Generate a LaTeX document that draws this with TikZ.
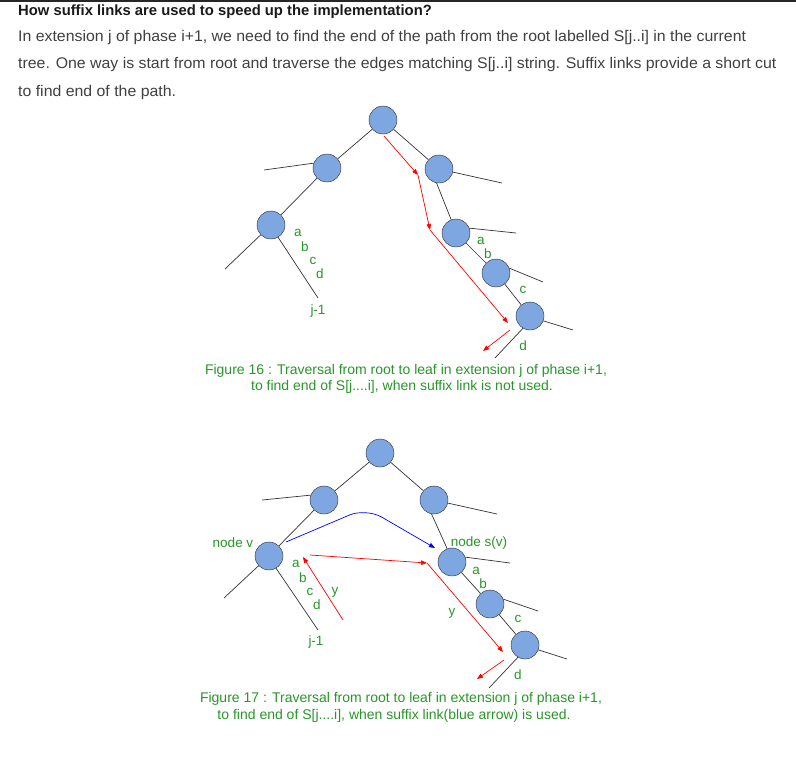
\documentclass[tikz,border=0pt]{standalone}
\usepackage{fontspec}
\setmainfont{Liberation Sans}
\newfontfamily\bodyfont[FakeStretch=1.03]{Liberation Sans}
\usetikzlibrary{arrows.meta}
\definecolor{nodeblue}{HTML}{7EA6E0}
\definecolor{lblgreen}{RGB}{40,150,40}
\definecolor{bodygray}{HTML}{404040}

\begin{document}
\begin{tikzpicture}[
    x=1pt, y=-1pt,
    >={Triangle[length=6pt, width=4.5pt]},
    tnode/.style={circle, draw=black!85, fill=nodeblue, minimum size=28pt,
                  inner sep=0pt},
    edge/.style={draw=black!80, line width=0.7pt},
    redarr/.style={->, red, line width=0.7pt},
    bluearr/.style={->, blue, line width=0.7pt, rounded corners=18pt},
    lbl/.style={text=lblgreen, font=\fontsize{13.5}{15}\selectfont, inner sep=0pt},
    figcap/.style={text=lblgreen, font=\fontsize{14}{16}\selectfont, inner sep=0pt},
    para/.style={anchor=base west, text=bodygray, inner sep=0pt,
                 font=\bodyfont\fontsize{15.4}{18}\selectfont}
  ]
  \useasboundingbox (0,0) rectangle (796,756);
  \draw[black!85, line width=2pt] (0,1) -- (796,1);

  % heading and text
  \node[anchor=base west, inner sep=0pt, text=black!90,
        font=\bfseries\fontsize{14.8}{18}\selectfont] (head) at (18,15)
    {How suffix links are used to speed up the implementation?};
  \node[para] (line1) at (18,41) {In extension j of phase i+1, we need to find the end of the path from the root labelled S[j..i] in the current};
  \node[para] (line2) at (18,68) {tree. One way is start from root and traverse the edges matching S[j..i] string. Suffix links provide a short cut};
  \node[para] (line3) at (18,96) {to find end of the path.};

  % Figure 16
  \node[tnode] (rootA) at (383,120) {};
  \node[tnode] (la) at (327,168) {};
  \node[tnode] (ra) at (439,169) {};
  \node[tnode] (lla) at (271,225) {};
  \node[tnode] (xa) at (456,233) {};
  \node[tnode] (ya) at (496,273) {};
  \node[tnode] (za) at (530,316) {};

  \coordinate (laend) at (264,170);
  \coordinate (llaleft) at (225,269);
  \coordinate (lladown) at (318,298);
  \coordinate (raend) at (502,183);
  \coordinate (xaend) at (516,233);
  \coordinate (yaend) at (543,282);
  \coordinate (zaend) at (573,330);
  \coordinate (zadown) at (495,358);

  \draw[edge] (rootA) -- (la);
  \draw[edge] (rootA) -- (ra);
  \draw[edge] (laend) -- (la.160);
  \draw[edge] (la) -- (lla);
  \draw[edge] (lla) -- (llaleft);
  \draw[edge] (lla.-60) -- (lladown);
  \draw[edge] (ra) -- (raend);
  \draw[edge] (ra.-100) -- (xa.110);
  \draw[edge] (xa.20) -- (xaend);
  \draw[edge] (xa) -- (ya);
  \draw[edge] (ya.20) -- (yaend);
  \draw[edge] (ya) -- (za);
  \draw[edge] (za.-20) -- (zaend);
  \draw[edge] (za.-120) -- (zadown);

  \coordinate (redA0) at (384,136);
  \coordinate (redA1) at (418,175);
  \coordinate (redA2) at (430,230);
  \coordinate (redA3) at (508,323);
  \coordinate (redA4) at (510,330);
  \coordinate (redA5) at (483,351);
  \draw[redarr] (redA0) -- (redA1);
  \draw[redarr] (redA1) -- (redA2);
  \draw[redarr] (redA2) -- (redA3);
  \draw[redarr] (redA4) -- (redA5);

  \node[lbl] (aA) at (298,233) {a};
  \node[lbl] (bA) at (305,247) {b};
  \node[lbl] (cA) at (313,261) {c};
  \node[lbl] (dA) at (320,274) {d};
  \node[lbl] (jA) at (318,311) {j-1};
  \node[lbl] (aA2) at (481,241) {a};
  \node[lbl] (bA2) at (488,254) {b};
  \node[lbl] (cA2) at (523,290) {c};
  \node[lbl] (dA2) at (523,346) {d};

  \node[figcap] (capA1) at (406,371) {Figure 16 : Traversal from root to leaf in extension j of phase i+1,};
  \node[figcap] (capA2) at (402,387) {to find end of S[j....i], when suffix link is not used.};

  % Figure 17
  \node[tnode] (rootB) at (380,453) {};
  \node[tnode] (lb) at (324,500) {};
  \node[tnode] (rb) at (434,500) {};
  \node[tnode] (v) at (269,556) {};
  \node[tnode] (sv) at (452,562) {};
  \node[tnode] (xb) at (490,604) {};
  \node[tnode] (yb) at (525,645) {};

  \coordinate (lbend) at (262,500);
  \coordinate (rbend) at (497,514);
  \coordinate (vleft) at (224,598);
  \coordinate (vdown) at (318,630);
  \coordinate (svend) at (510,563);
  \coordinate (xbend) at (538,611);
  \coordinate (ybend) at (567,659);
  \coordinate (ybdown) at (489,688);

  \draw[edge] (rootB) -- (lb);
  \draw[edge] (rootB) -- (rb);
  \draw[edge] (lbend) -- (lb.160);
  \draw[edge] (lb) -- (v);
  \draw[edge] (v) -- (vleft);
  \draw[edge] (v.-60) -- (vdown);
  \draw[edge] (rb) -- (rbend);
  \draw[edge] (rb.-100) -- (sv.110);
  \draw[edge] (sv.20) -- (svend);
  \draw[edge] (sv) -- (xb);
  \draw[edge] (xb.20) -- (xbend);
  \draw[edge] (xb) -- (yb);
  \draw[edge] (yb.-20) -- (ybend);
  \draw[edge] (yb.-120) -- (ybdown);

  % suffix link
  \coordinate (blue0) at (286,542);
  \coordinate (bluetop) at (366,508);
  \coordinate (blue1) at (435,548);
  \draw[bluearr] (blue0) -- (bluetop) -- (blue1);

  \coordinate (redB0) at (343,620);
  \coordinate (redB1) at (303,557);
  \coordinate (redB2) at (310,555);
  \coordinate (redB3) at (427,563);
  \coordinate (redB4) at (503,652);
  \coordinate (redB5) at (504,660);
  \coordinate (redB6) at (477,679);
  \draw[redarr] (redB0) -- (redB1);
  \draw[redarr] (redB2) -- (redB3);
  \draw[redarr] (redB3) -- (redB4);
  \draw[redarr] (redB5) -- (redB6);

  \node[lbl] (vlbl) at (233,543) {node v};
  \node[lbl] (svlbl) at (479,543) {node s(v)};
  \node[lbl] (aB) at (296,564) {a};
  \node[lbl] (bB) at (303,578) {b};
  \node[lbl] (cB) at (310,592) {c};
  \node[lbl] (dB) at (317,605) {d};
  \node[lbl] (yB) at (335,592) {y};
  \node[lbl] (jB) at (316,642) {j-1};
  \node[lbl] (aB2) at (476,571) {a};
  \node[lbl] (bB2) at (483,584) {b};
  \node[lbl] (yB2) at (452,613) {y};
  \node[lbl] (cB2) at (518,619) {c};
  \node[lbl] (dB2) at (518,675) {d};

  \node[figcap] (capB1) at (401,699) {Figure 17 : Traversal from root to leaf in extension j of phase i+1,};
  \node[figcap] (capB2) at (394,716) {to find end of S[j....i], when suffix link(blue arrow) is used.};
\end{tikzpicture}
\end{document}
